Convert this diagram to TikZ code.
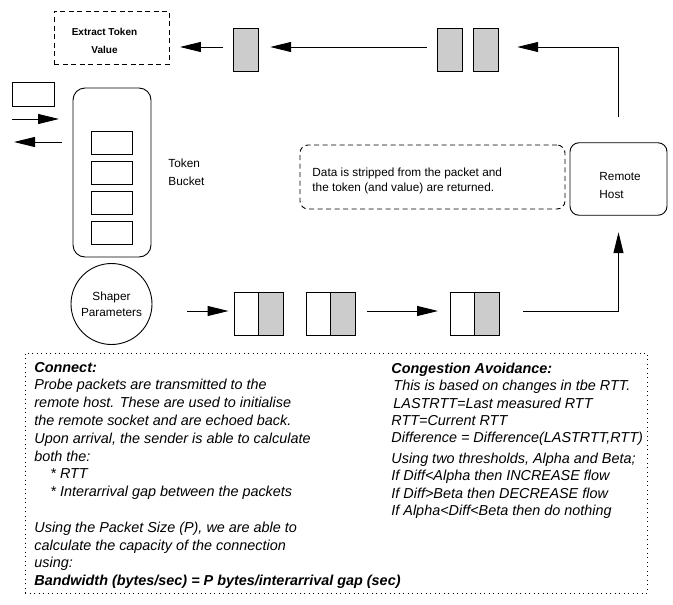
\documentclass[tikz,border=0pt]{standalone}
\usepackage{fontspec}
\setmainfont{Liberation Sans}
\usetikzlibrary{arrows.meta}
\definecolor{pktgray}{HTML}{CCCCCC}
\tikzset{
  lbl/.style={inner sep=0pt, align=left, font=\fontsize{11.8}{18}\selectfont},
  note/.style={inner sep=0pt, align=left, font=\fontsize{14.4}{17.8}\selectfont\itshape},
  half/.style={draw, minimum width=24.5pt, minimum height=43pt, inner sep=0pt},
  tok/.style={half, fill=pktgray},
  slot/.style={draw, minimum width=41pt, minimum height=23pt, inner sep=0pt},
  flow/.style={-{Triangle[length=21pt,width=10pt]}},
  dashbox/.style={draw, dash pattern=on 5pt off 3.5pt},
}
\begin{document}
\begin{tikzpicture}[x=1pt, y=-1pt, line width=0.9pt]
    \useasboundingbox (0,0) rectangle (673,605);

    % tokens coming back
    \node[dashbox, minimum width=115pt, minimum height=53pt] (extract) at (111.5,37.5) {};
    \node[inner sep=0pt, align=center, anchor=north,
          font=\fontsize{10}{18}\selectfont\bfseries] (extractlbl) at (104.5,27.8) {Extract Token\\Value};
    \node[tok] (t1) at (246,49.5) {};
    \node[tok] (t2) at (450,49.5) {};
    \node[tok] (t3) at (486,49.5) {};

    % sender side
    \node[draw, minimum width=42pt, minimum height=24pt] (tokin) at (33,94) {};
    \coordinate (ins)  at (12,119);
    \coordinate (ine)  at (59,119);
    \coordinate (outs) at (62,142);
    \coordinate (oute) at (14,142);
    \draw[flow] (ins) -- (ine);
    \draw[flow] (outs) -- (oute);

    \node[draw, rounded corners=12pt, minimum width=78pt, minimum height=169pt] (bucket) at (112,172.5) {};
    \foreach \y [count=\i] in {142.5,172.5,202.5,232.5}
        \node[slot] (slot\i) at (111.5,\y) {};
    \node[lbl, anchor=north west] (bucketlbl) at (168,158.8) {Token\\Bucket};

    \node[draw, circle, minimum size=81pt, inner sep=0pt, align=center,
          font=\fontsize{11.8}{16}\selectfont] (shaper) at (111.5,304) {Shaper\\Parameters};

    % packets going out
    \node[half] (p1w) at (246.25,313.5) {};
    \node[tok]  (p1g) at (270.75,313.5) {};
    \node[half] (p2w) at (318.25,313.5) {};
    \node[tok]  (p2g) at (342.75,313.5) {};
    \node[half] (p3w) at (462.25,313.5) {};
    \node[tok]  (p3g) at (486.75,313.5) {};

    % remote end
    \node[draw, rounded corners=9pt, minimum width=97pt, minimum height=72.5pt] (rhost) at (618.5,179) {};
    \node[lbl, anchor=north west] (rhostlbl) at (599,171.5) {Remote\\Host};
    \node[dashbox, rounded corners=8pt, minimum width=265pt, minimum height=64pt] (strip) at (432.5,177) {};
    \node[lbl, anchor=north west, font=\fontsize{11.8}{15}\selectfont] (striplbl) at (312,167)
        {Data is stripped from the packet and\\the token (and value) are returned.};

    % connectors
    \coordinate (p1in)  at ([yshift=2.5pt]p1w.west);
    \coordinate (p3in)  at ([yshift=2.5pt]p3w.west);
    \coordinate (p2out) at ([yshift=2.5pt]p2g.east);
    \coordinate (p3out) at ([yshift=2.5pt]p3g.east);
    \coordinate (t1in)  at ([yshift=2.5pt]t1.east);
    \coordinate (t1out) at ([yshift=2.5pt]t1.west);
    \coordinate (t2out) at ([yshift=2.5pt]t2.west);
    \coordinate (t3in)  at ([yshift=2.5pt]t3.east);
    \coordinate (exin)  at (extract.east |- t1out);

    \draw[flow, shorten <=35pt, shorten >=5pt]      (p1in -| shaper.east) -- (p1in);
    \draw[flow, shorten <=11.5pt, shorten >=11.5pt] (p2out) -- (p3in);
    \draw[flow, shorten <=23.5pt, shorten >=16.5pt] (p3out) -| (rhost.south);
    \draw[flow, shorten <=25pt, shorten >=18.5pt]   (rhost.north) |- (t3in);
    \draw[flow, shorten <=10.5pt, shorten >=11.5pt] (t2out) -- (t1in);
    \draw[flow, shorten <=10.5pt, shorten >=10.5pt] (t1out) -- (exin);

    % notes
    \node[draw, line width=0.8pt, dash pattern=on 0.8pt off 3.7pt,
          minimum width=622pt, minimum height=240pt] (notes) at (336,473) {};
    \node[note, anchor=north west] (connect) at (34,361.6)
        {\textbf{Connect:}\\
         Probe packets are transmitted to the\\
         remote host. These are used to initialise\\
         the remote socket and are echoed back.\\
         Upon arrival, the sender is able to calculate\\
         both the:\\
         \hspace*{16pt}* RTT\\
         \hspace*{16pt}* Interarrival gap between the packets\\[17.8pt]
         Using the Packet Size (P), we are able to\\
         calculate the capacity of the connection\\
         using:\\
         \textbf{Bandwidth (bytes/sec) = P bytes/interarrival gap (sec)}};
    \node[note, anchor=north west, font=\fontsize{14.4}{17.3}\selectfont\itshape] (avoid) at (391,362.6)
        {\textbf{Congestion Avoidance:}\\
         \hspace*{2pt}This is based on changes in tbe RTT.\\
         \hspace*{2pt}LASTRTT=Last measured RTT\\
         RTT=Current RTT\\
         Difference = Difference(LASTRTT,RTT)\\[3.5pt]
         Using two thresholds, Alpha and Beta;\\
         If Diff<Alpha then INCREASE flow\\
         If Diff>Beta then DECREASE flow\\
         If Alpha<Diff<Beta then do nothing};
\end{tikzpicture}
\end{document}
